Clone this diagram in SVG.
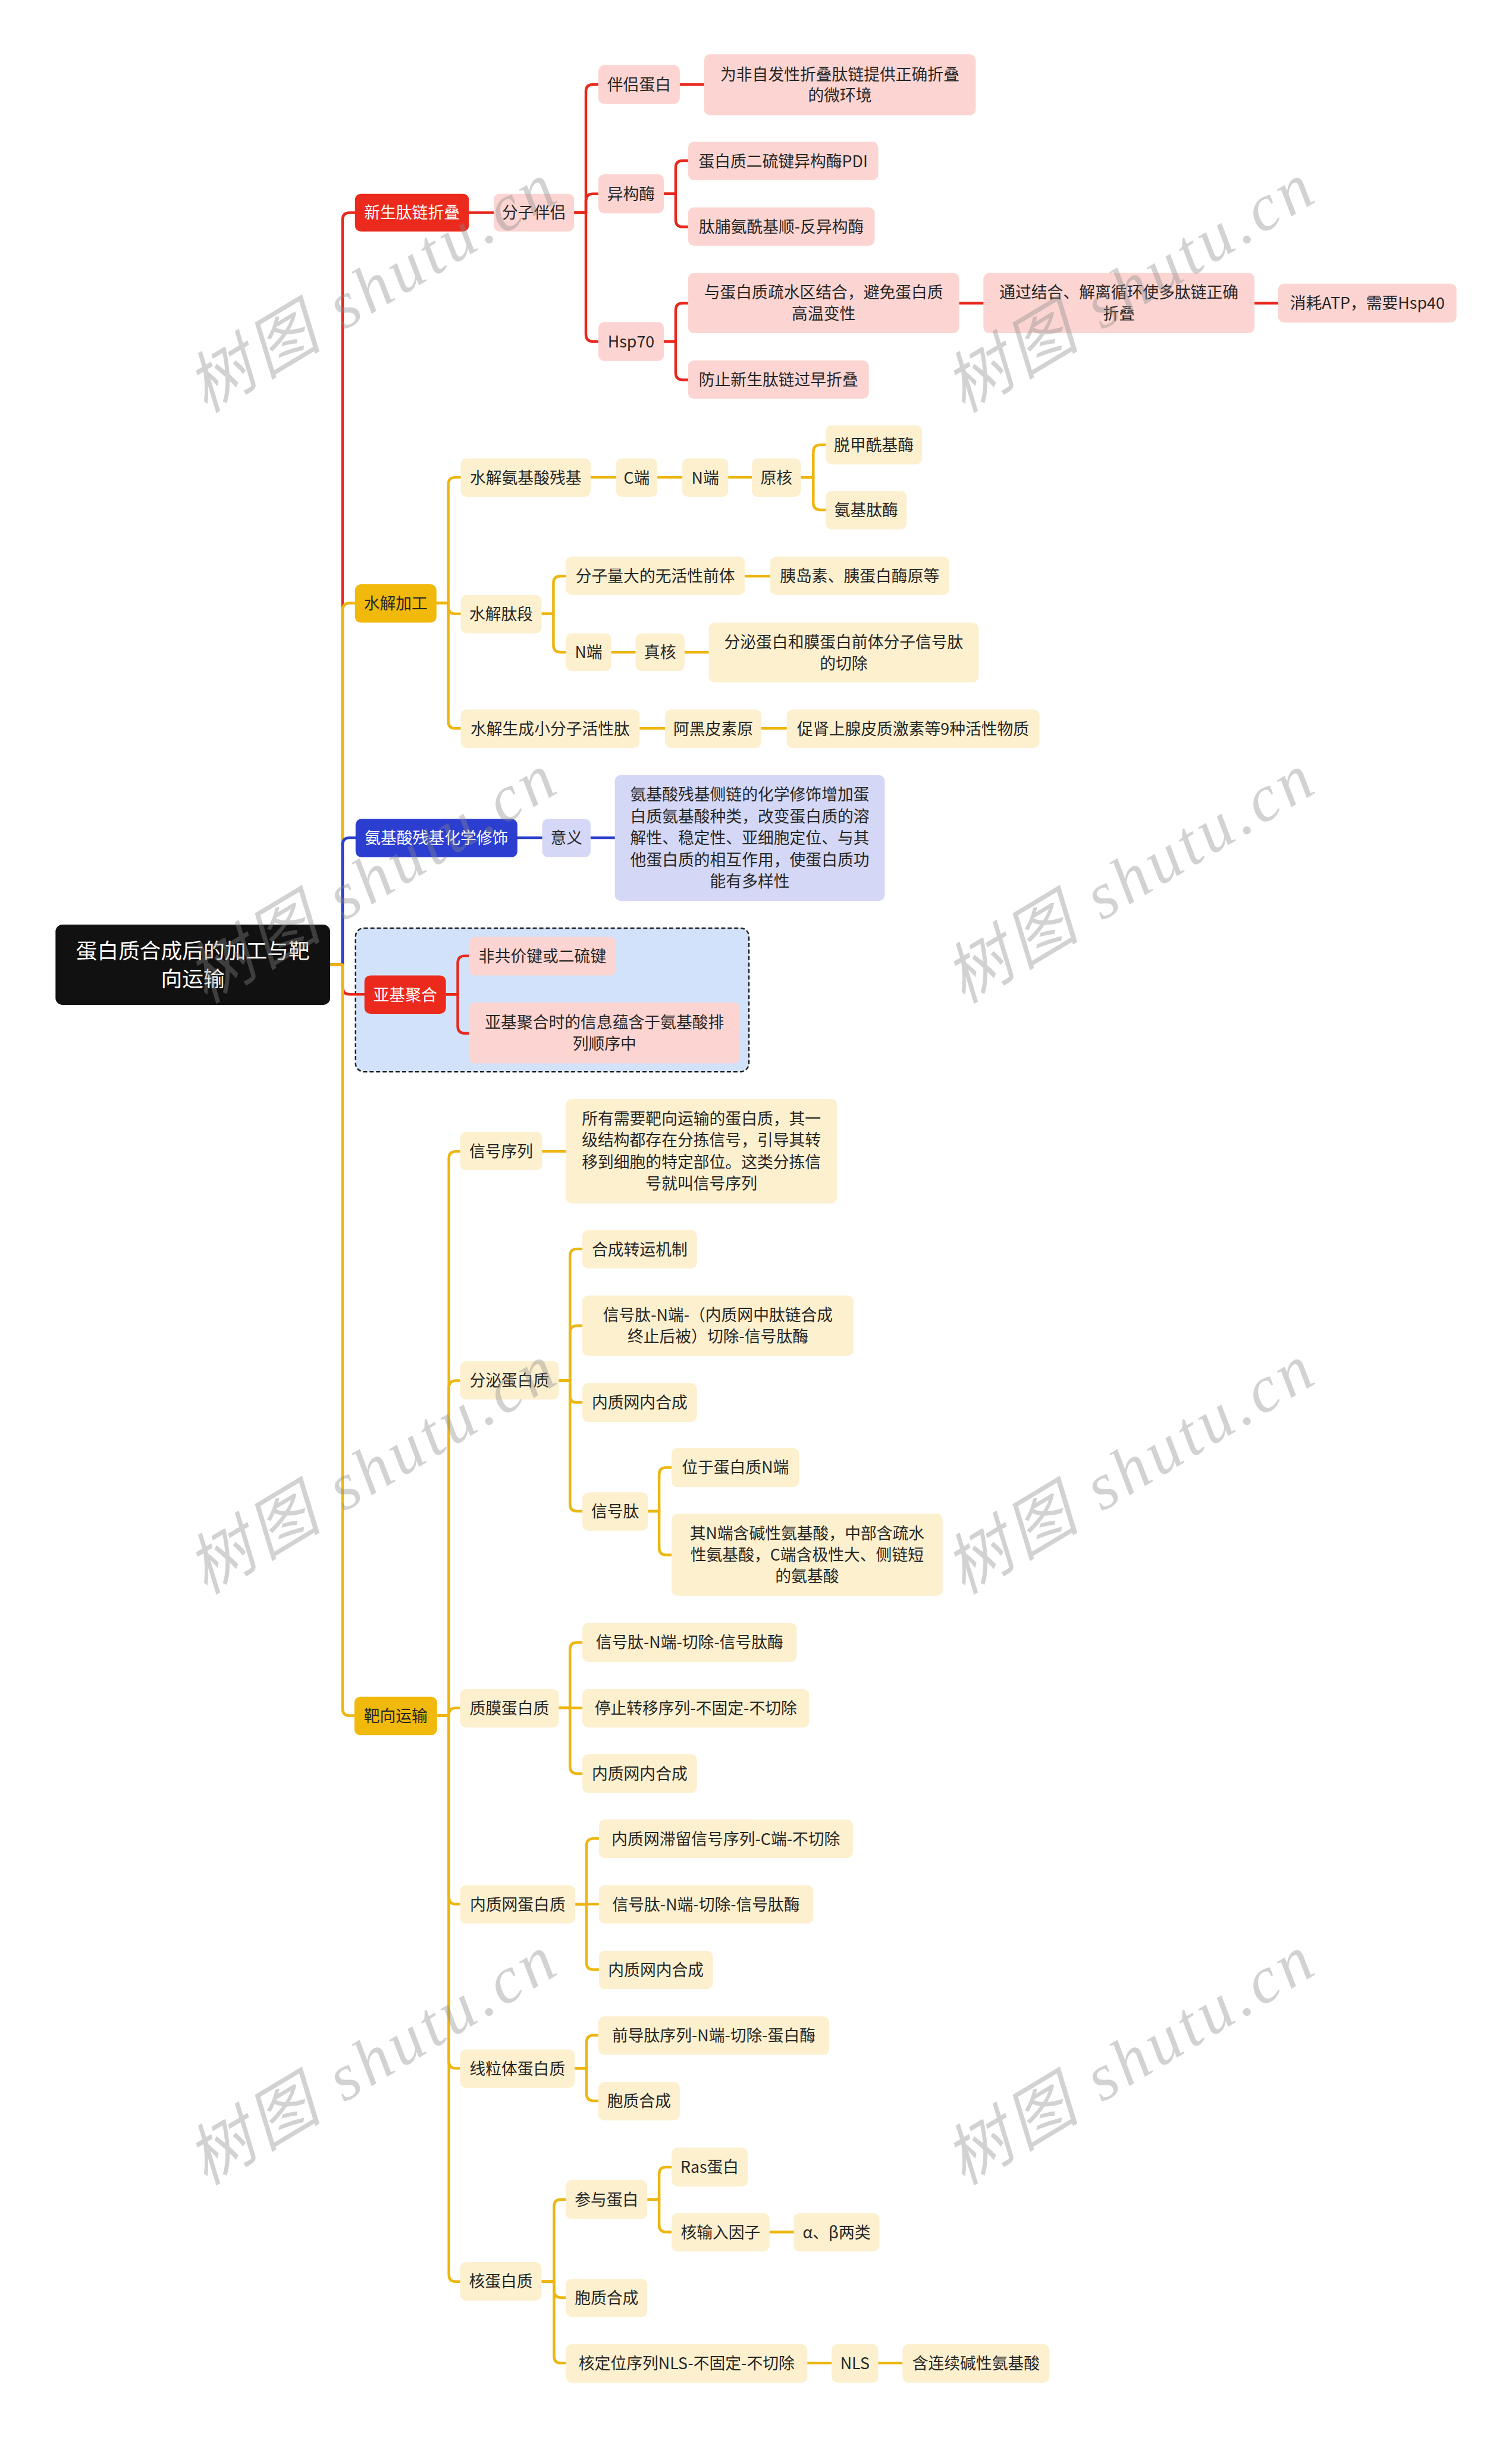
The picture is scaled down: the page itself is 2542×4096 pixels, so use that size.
<svg xmlns="http://www.w3.org/2000/svg" width="2542" height="4096" viewBox="0 0 2542 4096">
<style>
text{font-family:"Noto Sans CJK SC","Noto Sans",sans-serif;font-size:27px;text-anchor:middle;fill:#262626}
.w text,text.w{fill:#fff}
.c path{fill:none;stroke-width:4.5;stroke-linecap:round;stroke-linejoin:round}
.lr{stroke:#E8281C}.ly{stroke:#EDB610}.lb{stroke:#2B3FCB}
.fr{fill:#FCD5D2}.fy{fill:#FDF0CF}.fb{fill:#D4D8F6}
.sr{fill:#EB2A1D}.sy{fill:#F0B90C}.sb{fill:#2C3ECF}
.wm{font-family:"Liberation Serif","Noto Sans CJK SC",serif;font-style:italic;font-size:112px;fill:#8a8a8a;fill-opacity:0.38;text-anchor:start}
</style>
<rect width="2542" height="4096" fill="#fff"/>
<g transform="scale(0.99297)">
<rect x="602" y="1571" width="666" height="243" rx="14" fill="#D3E2FB" stroke="#222" stroke-width="2.5" stroke-dasharray="7 4"/>
<g class="c" id="connectors">
<path class="lr" d="M559 1633H580V372Q580 360 592 360H601"/>
<path class="ly" d="M559 1633H580V1033Q580 1021 592 1021H601"/>
<path class="lb" d="M559 1633H580V1430Q580 1418 592 1418H602"/>
<path class="lr" d="M559 1633H580V1671Q580 1683 592 1683H617"/>
<path class="ly" d="M559 1633H580V2892Q580 2904 592 2904H600"/>
<path class="lr" d="M794 360H836"/>
<path class="lr" d="M972 360H992V155Q992 143 1004 143H1013"/>
<path class="lr" d="M972 360H992V340Q992 328 1004 328H1013"/>
<path class="lr" d="M972 360H992V566Q992 578 1004 578H1013"/>
<path class="lr" d="M1151 143H1192"/>
<path class="lr" d="M1124 328H1144V284Q1144 272 1156 272H1165"/>
<path class="lr" d="M1124 328H1144V372Q1144 384 1156 384H1165"/>
<path class="lr" d="M1124 578H1144V525Q1144 513 1156 513H1165"/>
<path class="lr" d="M1124 578H1144V631Q1144 643 1156 643H1165"/>
<path class="lr" d="M1624 513H1665"/>
<path class="lr" d="M2124 513H2164"/>
<path class="ly" d="M739 1021H759V820Q759 808 771 808H780"/>
<path class="ly" d="M739 1021H759V1027Q759 1039 771 1039H780"/>
<path class="ly" d="M739 1021H759V1221Q759 1233 771 1233H780"/>
<path class="ly" d="M1000 808H1043"/>
<path class="ly" d="M1113 808H1155"/>
<path class="ly" d="M1233 808H1273"/>
<path class="ly" d="M1356 808H1377V765Q1377 753 1389 753H1398"/>
<path class="ly" d="M1356 808H1377V851Q1377 863 1389 863H1398"/>
<path class="ly" d="M917 1039H937V987Q937 975 949 975H958"/>
<path class="ly" d="M917 1039H937V1092Q937 1104 949 1104H958"/>
<path class="ly" d="M1261 975H1304"/>
<path class="ly" d="M1035 1104H1076"/>
<path class="ly" d="M1159 1104H1200"/>
<path class="ly" d="M1083 1233H1126"/>
<path class="ly" d="M1289 1233H1332"/>
<path class="lb" d="M876 1418H918"/>
<path class="lb" d="M1000 1418H1041"/>
<path class="lr" d="M755 1683H775V1630Q775 1618 787 1618H794"/>
<path class="lr" d="M755 1683H775V1737Q775 1749 787 1749H794"/>
<path class="ly" d="M740 2904H760V1961Q760 1949 772 1949H779"/>
<path class="ly" d="M740 2904H760V2349Q760 2337 772 2337H779"/>
<path class="ly" d="M740 2904H760V2903Q760 2891 772 2891H779"/>
<path class="ly" d="M740 2904H760V3211Q760 3223 772 3223H779"/>
<path class="ly" d="M740 2904H760V3489Q760 3501 772 3501H779"/>
<path class="ly" d="M740 2904H760V3850Q760 3862 772 3862H779"/>
<path class="ly" d="M918 1949H958"/>
<path class="ly" d="M946 2337H965V2126Q965 2114 977 2114H986"/>
<path class="ly" d="M946 2337H965V2256Q965 2244 977 2244H986"/>
<path class="ly" d="M946 2337H965V2362Q965 2374 977 2374H986"/>
<path class="ly" d="M946 2337H965V2546Q965 2558 977 2558H986"/>
<path class="ly" d="M1097 2558H1116V2496Q1116 2484 1128 2484H1137"/>
<path class="ly" d="M1097 2558H1116V2620Q1116 2632 1128 2632H1137"/>
<path class="ly" d="M946 2891H965V2792Q965 2780 977 2780H986"/>
<path class="ly" d="M946 2891H986"/>
<path class="ly" d="M946 2891H965V2990Q965 3002 977 3002H986"/>
<path class="ly" d="M974 3223H993V3124Q993 3112 1005 3112H1014"/>
<path class="ly" d="M974 3223H1014"/>
<path class="ly" d="M974 3223H993V3322Q993 3334 1005 3334H1014"/>
<path class="ly" d="M973 3501H993V3457Q993 3445 1005 3445H1013"/>
<path class="ly" d="M973 3501H993V3544Q993 3556 1005 3556H1013"/>
<path class="ly" d="M917 3862H938V3735Q938 3723 950 3723H958"/>
<path class="ly" d="M917 3862H938V3877Q938 3889 950 3889H958"/>
<path class="ly" d="M917 3862H938V3988Q938 4000 950 4000H958"/>
<path class="ly" d="M1096 3723H1116V3680Q1116 3668 1128 3668H1137"/>
<path class="ly" d="M1096 3723H1116V3766Q1116 3778 1128 3778H1137"/>
<path class="ly" d="M1303 3778H1344"/>
<path class="ly" d="M1367 4000H1408"/>
<path class="ly" d="M1487 4000H1528"/>
</g>
<g id="root" class="w"><rect x="94" y="1565" width="465" height="136" rx="12" fill="#111"/><text style="font-size:36px"><tspan x="326.5" y="1622">蛋白质合成后的加工与靶</tspan><tspan x="326.5" y="1670">向运输</tspan></text></g>
<g id="n1" class="w"><rect class="sr" x="601" y="328" width="193" height="64" rx="10"/><text x="697.5" y="370">新生肽链折叠</text></g>
<g id="n1a"><rect class="fr" x="836" y="328" width="136" height="64" rx="10"/><text x="904" y="370">分子伴侣</text></g>
<g id="n1a1"><rect class="fr" x="1013" y="110" width="138" height="66" rx="10"/><text x="1082" y="153">伴侣蛋白</text></g>
<g id="n1a1a"><rect class="fr" x="1192" y="92" width="460" height="103" rx="10"/><text><tspan x="1422" y="135.5">为非自发性折叠肽链提供正确折叠</tspan><tspan x="1422" y="171.5">的微环境</tspan></text></g>
<g id="n1a2"><rect class="fr" x="1013" y="295" width="111" height="66" rx="10"/><text x="1068.5" y="338">异构酶</text></g>
<g id="n1a2a"><rect class="fr" x="1165" y="240" width="322" height="65" rx="10"/><text x="1326" y="282.5">蛋白质二硫键异构酶PDI</text></g>
<g id="n1a2b"><rect class="fr" x="1165" y="351" width="316" height="65" rx="10"/><text x="1323" y="393.5">肽脯氨酰基顺-反异构酶</text></g>
<g id="n1a3"><rect class="fr" x="1013" y="545" width="111" height="66" rx="10"/><text x="1068.5" y="588">Hsp70</text></g>
<g id="n1a3a"><rect class="fr" x="1165" y="462" width="459" height="102" rx="10"/><text><tspan x="1394.5" y="505">与蛋白质疏水区结合，避免蛋白质</tspan><tspan x="1394.5" y="541">高温变性</tspan></text></g>
<g id="n1a3a1"><rect class="fr" x="1665" y="462" width="459" height="102" rx="10"/><text><tspan x="1894.5" y="505">通过结合、解离循环使多肽链正确</tspan><tspan x="1894.5" y="541">折叠</tspan></text></g>
<g id="n1a3a1a"><rect class="fr" x="2164" y="480" width="302" height="66" rx="10"/><text x="2315" y="523">消耗ATP，需要Hsp40</text></g>
<g id="n1a3b"><rect class="fr" x="1165" y="610" width="306" height="65" rx="10"/><text x="1318" y="652.5">防止新生肽链过早折叠</text></g>
<g id="n2"><rect class="sy" x="601" y="989" width="138" height="65" rx="10"/><text x="670" y="1031.5">水解加工</text></g>
<g id="n2a"><rect class="fy" x="780" y="776" width="220" height="65" rx="10"/><text x="890" y="818.5">水解氨基酸残基</text></g>
<g id="n2a1"><rect class="fy" x="1043" y="776" width="70" height="65" rx="10"/><text x="1078" y="818.5">C端</text></g>
<g id="n2a2"><rect class="fy" x="1155" y="776" width="78" height="65" rx="10"/><text x="1194" y="818.5">N端</text></g>
<g id="n2a3"><rect class="fy" x="1273" y="776" width="83" height="65" rx="10"/><text x="1314.5" y="818.5">原核</text></g>
<g id="n2a3a"><rect class="fy" x="1398" y="720" width="163" height="66" rx="10"/><text x="1479.5" y="763">脱甲酰基酶</text></g>
<g id="n2a3b"><rect class="fy" x="1398" y="831" width="137" height="65" rx="10"/><text x="1466.5" y="873.5">氨基肽酶</text></g>
<g id="n2b"><rect class="fy" x="780" y="1007" width="137" height="65" rx="10"/><text x="848.5" y="1049.5">水解肽段</text></g>
<g id="n2b1"><rect class="fy" x="958" y="942" width="303" height="65" rx="10"/><text x="1109.5" y="984.5">分子量大的无活性前体</text></g>
<g id="n2b1a"><rect class="fy" x="1304" y="942" width="303" height="65" rx="10"/><text x="1455.5" y="984.5">胰岛素、胰蛋白酶原等</text></g>
<g id="n2b2"><rect class="fy" x="958" y="1072" width="77" height="64" rx="10"/><text x="996.5" y="1114">N端</text></g>
<g id="n2b2a"><rect class="fy" x="1076" y="1072" width="83" height="64" rx="10"/><text x="1117.5" y="1114">真核</text></g>
<g id="n2b2b"><rect class="fy" x="1200" y="1054" width="457" height="101" rx="10"/><text><tspan x="1428.5" y="1096.5">分泌蛋白和膜蛋白前体分子信号肽</tspan><tspan x="1428.5" y="1132.5">的切除</tspan></text></g>
<g id="n2c"><rect class="fy" x="780" y="1201" width="303" height="65" rx="10"/><text x="931.5" y="1243.5">水解生成小分子活性肽</text></g>
<g id="n2c1"><rect class="fy" x="1126" y="1201" width="163" height="65" rx="10"/><text x="1207.5" y="1243.5">阿黑皮素原</text></g>
<g id="n2c2"><rect class="fy" x="1332" y="1201" width="428" height="65" rx="10"/><text x="1546" y="1243.5">促肾上腺皮质激素等9种活性物质</text></g>
<g id="n3" class="w"><rect class="sb" x="602" y="1386" width="274" height="65" rx="10"/><text x="739" y="1428.5">氨基酸残基化学修饰</text></g>
<g id="n3a"><rect class="fb" x="918" y="1386" width="82" height="65" rx="10"/><text x="959" y="1428.5">意义</text></g>
<g id="n3a1"><rect class="fb" x="1041" y="1312" width="457" height="213" rx="10"/><text><tspan x="1269.5" y="1355">氨基酸残基侧链的化学修饰增加蛋</tspan><tspan x="1269.5" y="1392">白质氨基酸种类，改变蛋白质的溶</tspan><tspan x="1269.5" y="1428.5">解性、稳定性、亚细胞定位、与其</tspan><tspan x="1269.5" y="1465">他蛋白质的相互作用，使蛋白质功</tspan><tspan x="1269.5" y="1502">能有多样性</tspan></text></g>
<g id="n4" class="w"><rect class="sr" x="617" y="1651" width="138" height="65" rx="10"/><text x="686" y="1693.5">亚基聚合</text></g>
<g id="n4a"><rect class="fr" x="794" y="1586" width="249" height="65" rx="10"/><text x="918.5" y="1628.5">非共价键或二硫键</text></g>
<g id="n4b"><rect class="fr" x="794" y="1697" width="459" height="103" rx="10"/><text><tspan x="1023.5" y="1740.5">亚基聚合时的信息蕴含于氨基酸排</tspan><tspan x="1023.5" y="1776.5">列顺序中</tspan></text></g>
<g id="n5"><rect class="sy" x="600" y="2872" width="140" height="65" rx="10"/><text x="670" y="2914.5">靶向运输</text></g>
<g id="n5a"><rect class="fy" x="779" y="1916" width="139" height="65" rx="10"/><text x="848.5" y="1958.5">信号序列</text></g>
<g id="n5a1"><rect class="fy" x="958" y="1860" width="459" height="177" rx="10"/><text><tspan x="1187.5" y="1903.5">所有需要靶向运输的蛋白质，其一</tspan><tspan x="1187.5" y="1940">级结构都存在分拣信号，引导其转</tspan><tspan x="1187.5" y="1977">移到细胞的特定部位。这类分拣信</tspan><tspan x="1187.5" y="2013.5">号就叫信号序列</tspan></text></g>
<g id="n5b"><rect class="fy" x="779" y="2304" width="167" height="65" rx="10"/><text x="862.5" y="2346.5">分泌蛋白质</text></g>
<g id="n5b1"><rect class="fy" x="986" y="2082" width="194" height="65" rx="10"/><text x="1083" y="2124.5">合成转运机制</text></g>
<g id="n5b2"><rect class="fy" x="986" y="2193" width="459" height="102" rx="10"/><text><tspan x="1215.5" y="2236">信号肽-N端-（内质网中肽链合成</tspan><tspan x="1215.5" y="2272">终止后被）切除-信号肽酶</tspan></text></g>
<g id="n5b3"><rect class="fy" x="986" y="2341" width="194" height="66" rx="10"/><text x="1083" y="2384">内质网内合成</text></g>
<g id="n5b4"><rect class="fy" x="986" y="2526" width="111" height="65" rx="10"/><text x="1041.5" y="2568.5">信号肽</text></g>
<g id="n5b4a"><rect class="fy" x="1137" y="2451" width="216" height="66" rx="10"/><text x="1245" y="2494">位于蛋白质N端</text></g>
<g id="n5b4b"><rect class="fy" x="1137" y="2562" width="459" height="139" rx="10"/><text><tspan x="1366.5" y="2605">其N端含碱性氨基酸，中部含疏水</tspan><tspan x="1366.5" y="2641.5">性氨基酸，C端含极性大、侧链短</tspan><tspan x="1366.5" y="2678">的氨基酸</tspan></text></g>
<g id="n5c"><rect class="fy" x="779" y="2859" width="167" height="65" rx="10"/><text x="862.5" y="2901.5">质膜蛋白质</text></g>
<g id="n5c1"><rect class="fy" x="986" y="2747" width="363" height="66" rx="10"/><text x="1167.5" y="2790">信号肽-N端-切除-信号肽酶</text></g>
<g id="n5c2"><rect class="fy" x="986" y="2859" width="384" height="65" rx="10"/><text x="1178" y="2901.5">停止转移序列-不固定-不切除</text></g>
<g id="n5c3"><rect class="fy" x="986" y="2969" width="194" height="66" rx="10"/><text x="1083" y="3012">内质网内合成</text></g>
<g id="n5d"><rect class="fy" x="779" y="3191" width="195" height="65" rx="10"/><text x="876.5" y="3233.5">内质网蛋白质</text></g>
<g id="n5d1"><rect class="fy" x="1014" y="3080" width="430" height="65" rx="10"/><text x="1229" y="3122.5">内质网滞留信号序列-C端-不切除</text></g>
<g id="n5d2"><rect class="fy" x="1014" y="3191" width="363" height="65" rx="10"/><text x="1195.5" y="3233.5">信号肽-N端-切除-信号肽酶</text></g>
<g id="n5d3"><rect class="fy" x="1014" y="3302" width="193" height="65" rx="10"/><text x="1110.5" y="3344.5">内质网内合成</text></g>
<g id="n5e"><rect class="fy" x="779" y="3469" width="194" height="65" rx="10"/><text x="876" y="3511.5">线粒体蛋白质</text></g>
<g id="n5e1"><rect class="fy" x="1013" y="3413" width="391" height="65" rx="10"/><text x="1208.5" y="3455.5">前导肽序列-N端-切除-蛋白酶</text></g>
<g id="n5e2"><rect class="fy" x="1013" y="3524" width="138" height="65" rx="10"/><text x="1082" y="3566.5">胞质合成</text></g>
<g id="n5f"><rect class="fy" x="779" y="3829" width="138" height="65" rx="10"/><text x="848" y="3871.5">核蛋白质</text></g>
<g id="n5f1"><rect class="fy" x="958" y="3690" width="138" height="66" rx="10"/><text x="1027" y="3733">参与蛋白</text></g>
<g id="n5f1a"><rect class="fy" x="1137" y="3635" width="129" height="66" rx="10"/><text x="1201.5" y="3678">Ras蛋白</text></g>
<g id="n5f1b"><rect class="fy" x="1137" y="3746" width="166" height="65" rx="10"/><text x="1220" y="3788.5">核输入因子</text></g>
<g id="n5f1b1"><rect class="fy" x="1344" y="3746" width="145" height="65" rx="10"/><text x="1416.5" y="3788.5">α、β两类</text></g>
<g id="n5f2"><rect class="fy" x="958" y="3857" width="138" height="65" rx="10"/><text x="1027" y="3899.5">胞质合成</text></g>
<g id="n5f3"><rect class="fy" x="958" y="3968" width="409" height="65" rx="10"/><text x="1162.5" y="4010.5">核定位序列NLS-不固定-不切除</text></g>
<g id="n5f3a"><rect class="fy" x="1408" y="3968" width="79" height="65" rx="10"/><text x="1447.5" y="4010.5">NLS</text></g>
<g id="n5f3b"><rect class="fy" x="1528" y="3968" width="249" height="65" rx="10"/><text x="1652.5" y="4010.5">含连续碱性氨基酸</text></g>
<g id="watermarks">
<text class="wm" transform="translate(348 700) rotate(-31)" textLength="700">树图 shutu.cn</text>
<text class="wm" transform="translate(1631 700) rotate(-31)" textLength="700">树图 shutu.cn</text>
<text class="wm" transform="translate(348 1700) rotate(-31)" textLength="700">树图 shutu.cn</text>
<text class="wm" transform="translate(1631 1700) rotate(-31)" textLength="700">树图 shutu.cn</text>
<text class="wm" transform="translate(348 2700) rotate(-31)" textLength="700">树图 shutu.cn</text>
<text class="wm" transform="translate(1631 2700) rotate(-31)" textLength="700">树图 shutu.cn</text>
<text class="wm" transform="translate(348 3700) rotate(-31)" textLength="700">树图 shutu.cn</text>
<text class="wm" transform="translate(1631 3700) rotate(-31)" textLength="700">树图 shutu.cn</text>
</g>
</g>
</svg>
